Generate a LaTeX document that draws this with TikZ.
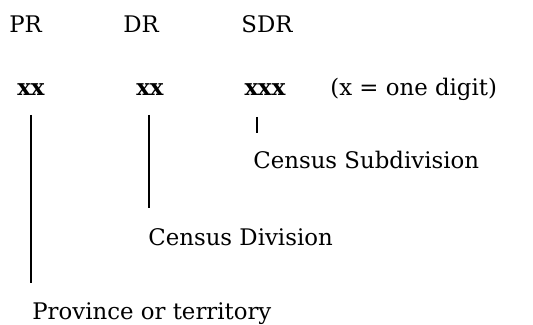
\documentclass[tikz,border=0pt]{standalone}
\usepackage{fontspec}
\setmainfont{DejaVu Serif}
\begin{document}
\begin{tikzpicture}[x=0.02cm, y=-0.02cm, every node/.style={inner sep=0pt, anchor=base west, font=\fontsize{13}{15}\selectfont}, code/.style={font=\fontsize{13}{15}\selectfont\bfseries}, tick/.style={line width=1.2pt}]

\useasboundingbox (0, 0) rectangle (533, 324);

\node (pr) at (9, 33) {PR};
\node (dr) at (123, 33) {DR};
\node (sdr) at (241, 33) {SDR};

\node[code, anchor=base] (prcode) at (31, 96) {xx};
\node[code, anchor=base] (drcode) at (150, 96) {xx};
\node[code, anchor=base] (sdrcode) at (265, 96) {xxx};
\node (note) at (330, 96) {(x = one digit)};

\node (csd) at (253, 168) {Census Subdivision};
\node (cd) at (148, 245) {Census Division};
\node (prov) at (32, 319) {Province or territory};

\coordinate (prtop) at (31, 115);
\coordinate (prbot) at (31, 283);
\coordinate (drtop) at (149, 115);
\coordinate (drbot) at (149, 208);
\coordinate (sdrtop) at (257, 117);
\coordinate (sdrbot) at (257, 133);

\draw[tick] (prtop) -- (prbot);
\draw[tick] (drtop) -- (drbot);
\draw[tick] (sdrtop) -- (sdrbot);
\end{tikzpicture}
\end{document}
